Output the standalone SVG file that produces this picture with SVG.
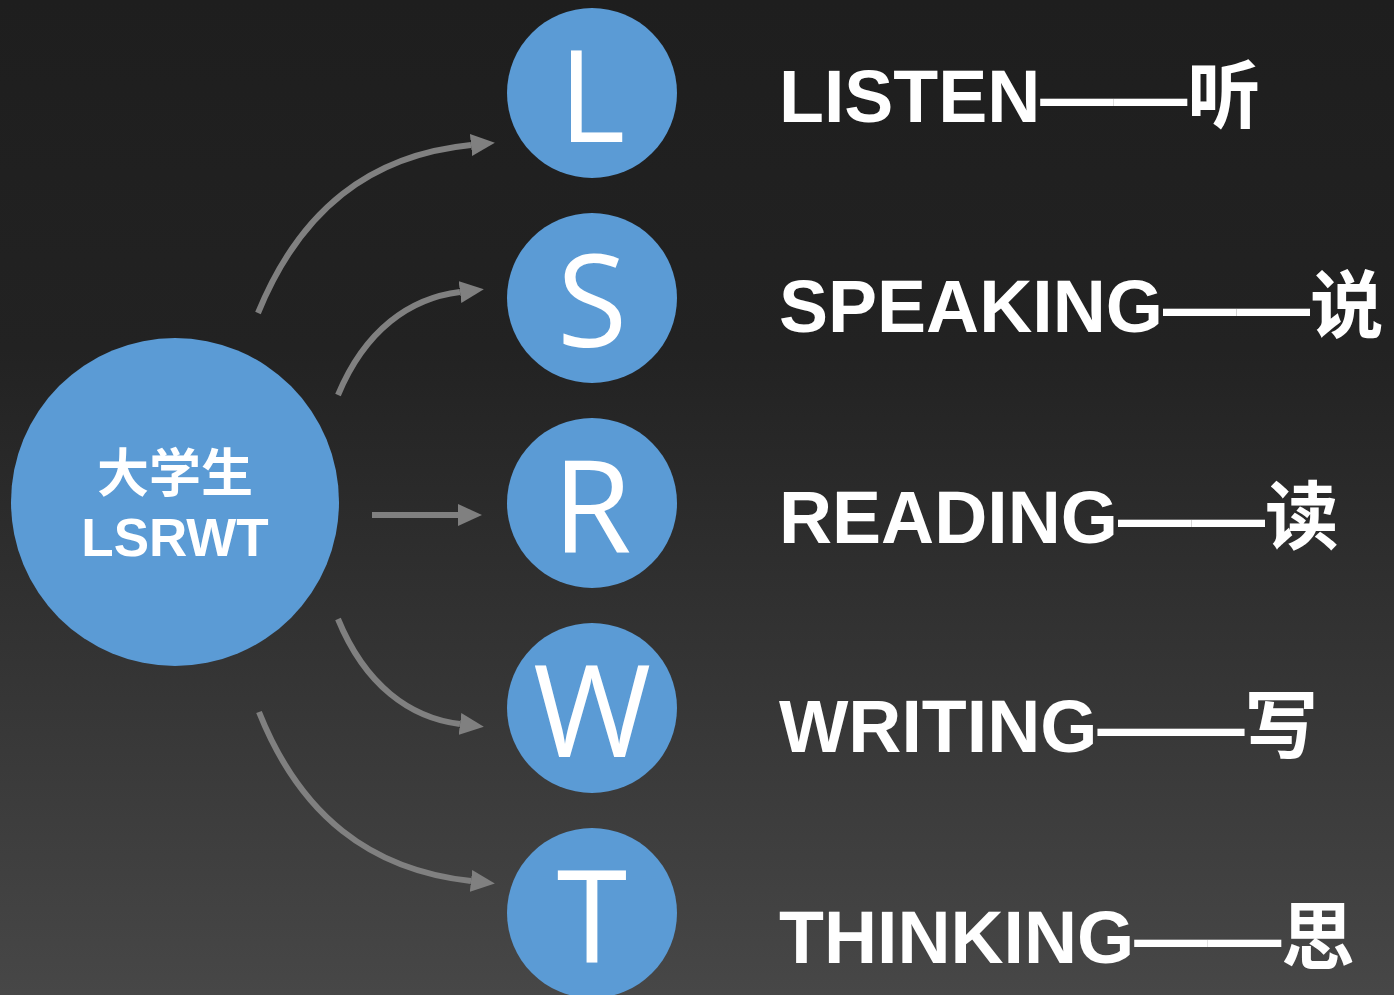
<svg xmlns="http://www.w3.org/2000/svg" width="1394" height="995" viewBox="0 0 1394 995">
<defs>
<linearGradient id="bg" x1="0" y1="0" x2="0" y2="1">
<stop offset="0" stop-color="#1e1e1e"/>
<stop offset="0.35" stop-color="#222222"/>
<stop offset="1" stop-color="#474747"/>
</linearGradient>
<marker id="ah" markerUnits="userSpaceOnUse" viewBox="0 0 24 24" markerWidth="24" markerHeight="24" refX="0" refY="12" orient="auto">
<path d="M0,1 L24,12 L0,23 z" fill="#808080"/>
</marker>
<style>
.node{fill:#5b9bd5}
.letter{font-family:"Open Sans","Noto Sans",sans-serif;font-size:128px;fill:#fff;text-anchor:middle}
.label{font-family:"Liberation Sans","Noto Sans CJK SC",sans-serif;font-weight:bold;font-size:73.5px;fill:#fff}
.center{font-family:"Liberation Sans","Noto Sans CJK SC",sans-serif;font-weight:bold;fill:#fff;text-anchor:middle}
.conn{fill:none;stroke:#808080;stroke-width:6;marker-end:url(#ah)}
</style>
</defs>
<rect width="1394" height="995" fill="url(#bg)"/>
<g id="connectors">
<path class="conn" d="M258,313 C300,210 370,155 471,145"/>
<path class="conn" d="M338,395 C365,330 410,298 460,292"/>
<path class="conn" d="M372,515 L458,515"/>
<path class="conn" d="M338,619 C365,685 410,718 460,724"/>
<path class="conn" d="M259,712 C300,815 370,870 471,881"/>
</g>
<g id="center">
<circle class="node" cx="175" cy="502" r="164"/>
<text class="center" x="175" y="492" font-size="52">大学生</text>
<text class="center" x="175" y="556" font-size="53">LSRWT</text>
</g>
<g id="node-L">
<circle class="node" cx="592" cy="93" r="85"/>
<text class="letter" x="592" y="142">L</text>
</g>
<g id="node-S">
<circle class="node" cx="592" cy="298" r="85"/>
<text class="letter" x="592" y="347">S</text>
</g>
<g id="node-R">
<circle class="node" cx="592" cy="503" r="85"/>
<text class="letter" x="592" y="552">R</text>
</g>
<g id="node-W">
<circle class="node" cx="592" cy="708" r="85"/>
<text class="letter" x="592" y="757">W</text>
</g>
<g id="node-T">
<circle class="node" cx="592" cy="913" r="85"/>
<text class="letter" x="592" y="962">T</text>
</g>
<g id="labels">
<text class="label" x="779" y="122">LISTEN——听</text>
<text class="label" x="779" y="332">SPEAKING——说</text>
<text class="label" x="779" y="543">READING——读</text>
<text class="label" x="779" y="752">WRITING——写</text>
<text class="label" x="779" y="963">THINKING——思</text>
</g>
</svg>
